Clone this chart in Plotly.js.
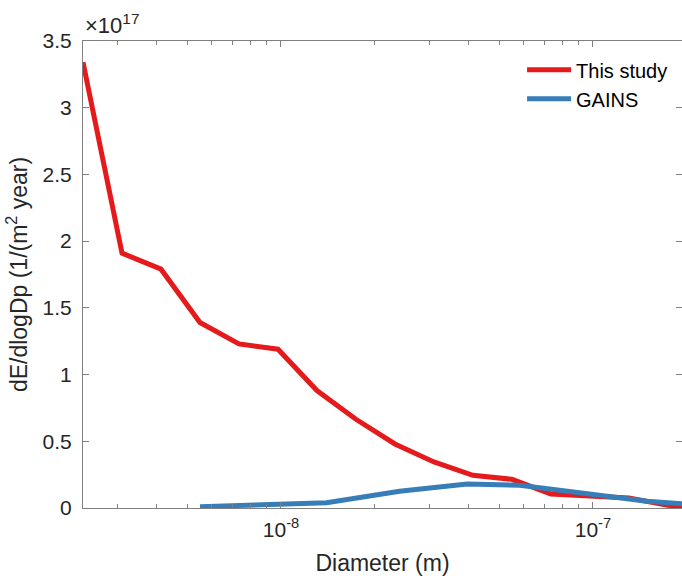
<!DOCTYPE html>
<html>
<head>
<meta charset="utf-8">
<script src="https://cdn.plot.ly/plotly-3.0.1.min.js"></script>
<style>html,body{margin:0;padding:0;background:#fff;}#chart{width:682px;height:579px;}</style>
</head>
<body>
<div id="chart"></div>
<script>
// Diameter (m)
const studyDiameter = [2.319e-9, 3.093e-9, 4.124e-9, 5.499e-9, 7.333e-9, 9.78e-9, 1.304e-8, 1.739e-8, 2.319e-8, 3.093e-8, 4.124e-8, 5.499e-8, 7.333e-8, 9.78e-8, 1.304e-7, 1.739e-7, 2.319e-7];
// dE/dlogDp in units of 1e17 (1/(m^2 year))
const studyValues = [3.34, 1.91, 1.79, 1.39, 1.23, 1.19, 0.88, 0.665, 0.48, 0.345, 0.245, 0.215, 0.105, 0.09, 0.075, 0.02, 0.0];
const gainsDiameter = [5.5e-9, 1.40e-8, 2.40e-8, 3.95e-8, 5.83e-8, 1.49e-7, 2.32e-7];
const gainsValues = [0.01, 0.04, 0.125, 0.18, 0.17, 0.05, 0.02];
const seriesNames = ['This study', 'GAINS'];
const yTickVals = [0, 0.5, 1, 1.5, 2, 2.5, 3, 3.5];
const yTickText = ['0', '0.5', '1', '1.5', '2', '2.5', '3', '3.5'];
const yExponent = 17;

const font = 'Liberation Sans, Arial, Helvetica, sans-serif';
const axisColor = '#262626';

const traces = [
  {x: studyDiameter, y: studyValues, name: seriesNames[0], type: 'scatter', mode: 'lines',
   line: {color: '#e41a1c', width: 5}},
  {x: gainsDiameter, y: gainsValues, name: seriesNames[1], type: 'scatter', mode: 'lines',
   line: {color: '#377eb8', width: 5}}
];

const layout = {
  width: 682, height: 579,
  margin: {l: 83, r: 0, t: 41, b: 71},
  paper_bgcolor: '#fff', plot_bgcolor: '#fff',
  font: {family: font, size: 20, color: axisColor},
  showlegend: true,
  legend: {x: 0.733, y: 0.98, xanchor: 'left', yanchor: 'top', bgcolor: 'rgba(0,0,0,0)',
           itemwidth: 44, tracegroupgap: 0,
           font: {family: font, size: 20, color: '#000'}},
  xaxis: {
    type: 'log', range: [Math.log10(2.319e-9), Math.log10(1.93e-7)],
    showgrid: false, zeroline: false,
    showline: true, linecolor: '#808080', linewidth: 1, mirror: 'ticks',
    ticks: 'inside', ticklen: 6, tickcolor: '#808080',
    tickvals: [1e-8, 1e-7], ticktext: ['10<sup>-8</sup>', '10<sup>-7</sup>'],
    tickfont: {family: font, size: 21, color: axisColor},
    ticklabelstandoff: 3,
    minor: {ticks: 'inside', ticklen: 4, tickcolor: '#808080', showgrid: false,
            tickvals: [3e-9,4e-9,5e-9,6e-9,7e-9,8e-9,9e-9,2e-8,3e-8,4e-8,5e-8,6e-8,7e-8,8e-8,9e-8]},
    title: {text: 'Diameter (m)', font: {family: font, size: 23, color: axisColor}, standoff: 14}
  },
  yaxis: {
    range: [0, 3.5], showgrid: false, zeroline: false,
    showline: true, linecolor: '#808080', linewidth: 1, mirror: 'ticks',
    ticks: 'inside', ticklen: 6, tickcolor: '#808080',
    tickvals: yTickVals, ticktext: yTickText,
    tickfont: {family: font, size: 21, color: axisColor},
    ticklabelstandoff: 6,
    title: {text: 'dE/dlogDp (1/(m<sup>2</sup> year)', font: {family: font, size: 23, color: axisColor}, standoff: 8}
  },
  annotations: [{
    xref: 'paper', yref: 'paper', x: 0, y: 1, xanchor: 'left', yanchor: 'bottom',
    xshift: 0, yshift: 1, showarrow: false,
    text: '\u00d710<sup>' + yExponent + '</sup>',
    font: {family: font, size: 22, color: axisColor}
  }]
};

Plotly.newPlot('chart', traces, layout, {displayModeBar: false, staticPlot: true});
</script>
</body>
</html>
